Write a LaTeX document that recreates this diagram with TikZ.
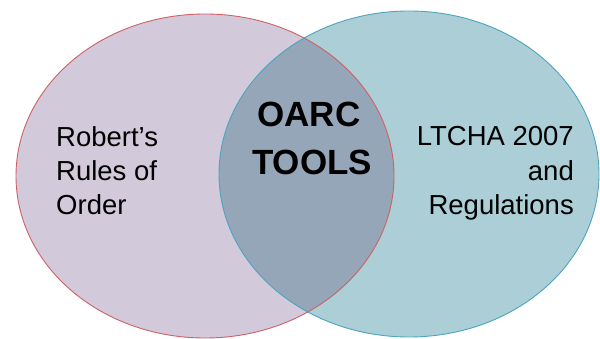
\documentclass[tikz,border=0pt]{standalone}
\usepackage{fontspec}
\setmainfont{Liberation Sans}
\definecolor{rulesfill}{RGB}{210,202,218}
\definecolor{actfill}{RGB}{172,206,214}
\definecolor{bothfill}{RGB}{150,166,185}
\definecolor{rulesline}{RGB}{208,96,100}
\definecolor{actline}{RGB}{78,164,190}
\begin{document}
\begin{tikzpicture}[x=1pt,y=-1pt,
        sidetext/.style={inner sep=0pt,font=\fontsize{27.5}{33}\selectfont},
        coretext/.style={inner sep=0pt,anchor=base,font=\fontsize{35}{42}\selectfont\bfseries}]
            \useasboundingbox (0,0) rectangle (600,339);
            % the two sets
            \fill[rulesfill] (205,176) ellipse [x radius=189, y radius=162];
            \fill[actfill] (409,174) ellipse [x radius=190, y radius=163];
            \begin{scope}
                \clip (205,176) ellipse [x radius=189, y radius=162];
                \fill[bothfill] (409,174) ellipse [x radius=190, y radius=163];
            \end{scope}
            \draw[rulesline,line width=0.9pt] (205,176) ellipse [x radius=189, y radius=162];
            \draw[actline,line width=0.9pt] (409,174) ellipse [x radius=190, y radius=163];
            % labels
            \foreach \i/\y/\t in {1/147/Robert’s, 2/181/Rules of, 3/215/Order} {
                \node[sidetext,anchor=base west] (rules\i) at (56,\y) {\t};
            }
            \foreach \i/\y/\t in {1/146/LTCHA 2007, 2/181/and, 3/215/Regulations} {
                \node[sidetext,anchor=base east] (act\i) at (574,\y) {\t};
            }
            \node[coretext] (oarc) at (309,127) {OARC};
            \node[coretext] (tools) at (312,175) {TOOLS};
        \end{tikzpicture}
\end{document}
